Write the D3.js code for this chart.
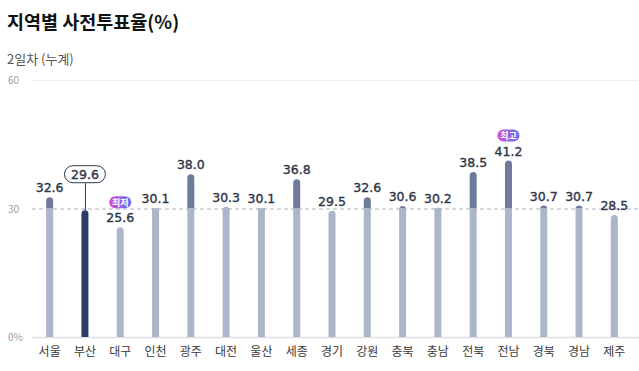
<!DOCTYPE html>
<html>
<head>
<meta charset="utf-8">
<script src="https://cdn.jsdelivr.net/npm/d3@7"></script>
<style>
  body { margin: 0; background: #fff; font-family: "Noto Sans CJK KR", "Noto Sans", sans-serif; }
</style>
</head>
<body>
<script>
var width = 639;
var height = 371;

var regions = ["서울", "부산", "대구", "인천", "광주", "대전", "울산", "세종", "경기", "강원", "충북", "충남", "전북", "전남", "경북", "경남", "제주"];
var turnout = [32.6, 29.6, 25.6, 30.1, 38.0, 30.3, 30.1, 36.8, 29.5, 32.6, 30.6, 30.2, 38.5, 41.2, 30.7, 30.7, 28.5];
var yTicks = [0, 30, 60];
var yTickLabels = ["0%", "30", "60"];
var average = 30;
var highlight = "부산";
var badges = [{ region: "대구", text: "최저" }, { region: "전남", text: "최고" }];

var svg = d3.select("body").append("svg")
    .attr("width", width)
    .attr("height", height);

var defs = svg.append("defs");
var grad = defs.append("linearGradient").attr("id", "badgeGrad")
    .attr("x1", "0%").attr("x2", "100%");
grad.append("stop").attr("offset", "0%").attr("stop-color", "#d64bd0");
grad.append("stop").attr("offset", "100%").attr("stop-color", "#5f76f2");

// title
svg.append("text")
    .attr("x", 7).attr("y", 29)
    .attr("font-size", 18.5).attr("font-weight", "bold").attr("fill", "#111")
    .text("지역별 사전투표율(%)");

svg.append("text")
    .attr("x", 7).attr("y", 64)
    .attr("font-size", 13).attr("fill", "#555")
    .text("2일차 (누계)");

var x = d3.scaleBand().domain(regions).range([32, 632]).padding(0);
var y = d3.scaleLinear().domain([0, 60]).range([337, 80]);

var barW = 7;

// grid
svg.append("g").selectAll("line")
    .data(yTicks)
    .enter().append("line")
    .attr("x1", 32).attr("x2", 639)
    .attr("y1", function(d) { return y(d) + 0.5; })
    .attr("y2", function(d) { return y(d) + 0.5; })
    .attr("stroke", function(d) { return d == 0 ? "#dcdfe4" : (d == average ? "#aab2c0" : "#eceef1"); })
    .attr("stroke-width", function(d) { return d == 0 ? 1.5 : 1; })
    .attr("stroke-dasharray", function(d) { return d == average ? "4,3" : null; });

svg.append("g").selectAll("text")
    .data(yTicks)
    .enter().append("text")
    .attr("x", 8)
    .attr("y", function(d) { return y(d) + 4; })
    .attr("font-size", 10).attr("fill", "#a0a0a0")
    .text(function(d, i) { return yTickLabels[i]; });

var data = regions.map(function(r, i) { return { region: r, value: turnout[i] }; });

function barPath(cx, top, bottom, w) {
  var r = w / 2;
  var p = d3.path();
  p.moveTo(cx - r, bottom);
  p.lineTo(cx - r, top + r);
  p.arc(cx, top + r, r, Math.PI, 0);
  p.lineTo(cx + r, bottom);
  p.closePath();
  return p.toString();
}

var bars = svg.append("g");
data.forEach(function(d) {
  var cx = x(d.region) + x.bandwidth() / 2;
  if (d.region == highlight) {
    bars.append("path")
      .attr("d", barPath(cx, y(d.value), y(0), barW))
      .attr("fill", "#2b3d66");
    return;
  }
  if (d.value > average) {
    bars.append("path")
      .attr("d", barPath(cx, y(d.value), y(average), barW))
      .attr("fill", "#6e7b9b");
    bars.append("rect")
      .attr("x", cx - barW / 2).attr("y", y(average))
      .attr("width", barW).attr("height", y(0) - y(average))
      .attr("fill", "#abb6ca");
  } else {
    bars.append("path")
      .attr("d", barPath(cx, y(d.value), y(0), barW))
      .attr("fill", "#abb6ca");
  }
});

// value labels
var numFont = "'DejaVu Sans', sans-serif";
function numLabel(g, cx, ty, v) {
  g.append("text")
    .attr("x", cx).attr("y", ty)
    .attr("text-anchor", "middle")
    .attr("font-size", 12.5).attr("fill", "#2d3447")
    .attr("stroke", "#2d3447").attr("stroke-width", 0.35)
    .attr("font-family", numFont)
    .text(v.toFixed(1));
}
var labels = svg.append("g");
data.forEach(function(d) {
  var cx = x(d.region) + x.bandwidth() / 2;
  if (d.region == highlight) {
    var by = y(d.value) - 36;
    labels.append("line")
      .attr("x1", cx + 0.5).attr("x2", cx + 0.5)
      .attr("y1", by + 9).attr("y2", y(d.value))
      .attr("stroke", "#2b3d66").attr("stroke-width", 1);
    labels.append("rect")
      .attr("x", cx - 20.5).attr("y", by - 8.5)
      .attr("width", 41).attr("height", 17).attr("rx", 8.5)
      .attr("fill", "#fff").attr("stroke", "#333a4a").attr("stroke-width", 1);
    numLabel(labels, cx, by + 4.5, d.value);
    return;
  }
  numLabel(labels, cx, y(d.value) - 5, d.value);
});

// badges
badges.forEach(function(b) {
  var v = turnout[regions.indexOf(b.region)];
  var cx = x(b.region) + x.bandwidth() / 2;
  var cy = y(v) - 25;
  svg.append("rect")
    .attr("x", cx - 11).attr("y", cy - 6)
    .attr("width", 22).attr("height", 12).attr("rx", 6)
    .attr("fill", "url(#badgeGrad)");
  svg.append("text")
    .attr("x", cx).attr("y", cy + 3.5)
    .attr("text-anchor", "middle")
    .attr("font-size", 9).attr("font-weight", "bold").attr("fill", "#fff")
    .text(b.text);
});

// x axis labels
svg.append("g").selectAll("text")
    .data(regions)
    .enter().append("text")
    .attr("x", function(d) { return x(d) + x.bandwidth() / 2; })
    .attr("y", 356)
    .attr("text-anchor", "middle")
    .attr("font-size", 12).attr("fill", "#3a3a3a")
    .text(function(d) { return d; });
</script>
</body>
</html>
